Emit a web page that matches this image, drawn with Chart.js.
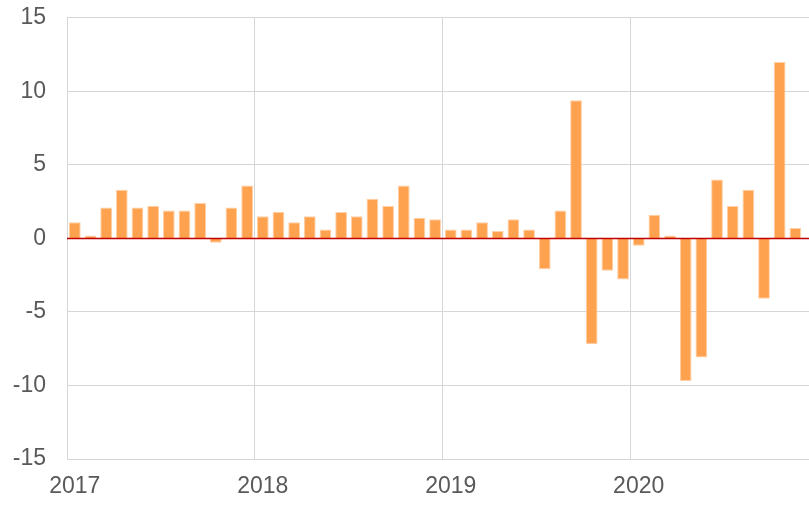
<!DOCTYPE html>
<html>
<head>
<meta charset="utf-8">
<script src="https://cdn.jsdelivr.net/npm/chart.js@4/dist/chart.umd.min.js"></script>
<style>
	html, body { margin: 0; padding: 0; background: #fff; overflow: hidden; }
	#wrap { width: 809px; height: 505px; overflow: hidden; }
	#chart { display: block; margin-top: -17px; }
</style>
</head>
<body>
<div id="wrap"><canvas id="chart" width="825" height="522"></canvas></div>
<script>
const years = ["2017", "2018", "2019", "2020"];
const months = ["01", "02", "03", "04", "05", "06", "07", "08", "09", "10", "11", "12"];

const values2017 = [1.1, 0.2, 2.1, 3.3, 2.1, 2.2, 1.9, 1.9, 2.4, -0.3, 2.1, 3.6];
const values2018 = [1.5, 1.8, 1.1, 1.5, 0.6, 1.8, 1.5, 2.7, 2.2, 3.6, 1.4, 1.3];
const values2019 = [0.6, 0.6, 1.1, 0.5, 1.3, 0.6, -2.1, 1.9, 9.4, -7.2, -2.2, -2.8];
const values2020 = [-0.5, 1.6, 0.2, -9.7, -8.1, 4.0, 2.2, 3.3, -4.1, 12.0, 0.7, null];

const yTicks = [-15, -10, -5, 0, 5, 10, 15];

const labels = years.flatMap(year => months.map(month => `${year}-${month}`));
const values = [...values2017, ...values2018, ...values2019, ...values2020];

const textColor = "#595959";
const gridColor = "#D6D6D6";
const zeroColor = "#C00000";

// red zero line drawn over the bars
const zeroLine = {
	id: "zeroLine",
	afterDatasetsDraw(chart) {
		const { ctx, chartArea, scales } = chart;
		const y = scales.y.getPixelForValue(0);
		ctx.save();
		ctx.strokeStyle = zeroColor;
		ctx.lineWidth = 1.5;
		ctx.beginPath();
		ctx.moveTo(chartArea.left, y);
		ctx.lineTo(chartArea.right, y);
		ctx.stroke();
		ctx.restore();
	}
};

new Chart(document.getElementById("chart"), {
	type: "bar",
	data: {
		labels,
		datasets: [
			{
				data: values,
				backgroundColor: "#FFA24F",
				borderColor: "#FFCFA6",
				borderWidth: 1,
				barPercentage: 0.75,
				categoryPercentage: 1
			}
		]
	},
	options: {
		responsive: false,
		animation: false,
		layout: { padding: 0 },
		plugins: {
			legend: { display: false },
			tooltip: { enabled: false }
		},
		scales: {
			x: {
				offset: true,
				grid: {
					offset: true,
					drawTicks: false,
					color: ctx => (ctx.index % 12 === 0 ? gridColor : "rgba(0,0,0,0)")
				},
				border: { color: gridColor },
				ticks: {
					autoSkip: false,
					maxRotation: 0,
					padding: 14,
					color: textColor,
					font: { family: "Liberation Sans, Arial, sans-serif", size: 23 },
					callback: (value, index) => (index % 12 === 0 ? years[index / 12] : "")
				},
				afterFit(scale) {
					scale.height = 46;
				}
			},
			y: {
				min: -15,
				max: 15,
				afterBuildTicks(scale) {
					scale.ticks = yTicks.map(value => ({ value }));
				},
				grid: { color: gridColor, drawTicks: false },
				border: { color: gridColor },
				ticks: {
					padding: 21,
					color: textColor,
					font: { family: "Liberation Sans, Arial, sans-serif", size: 23 }
				},
				afterFit(scale) {
					scale.width = 67;
				}
			}
		}
	},
	plugins: [zeroLine]
});
</script>
</body>
</html>
